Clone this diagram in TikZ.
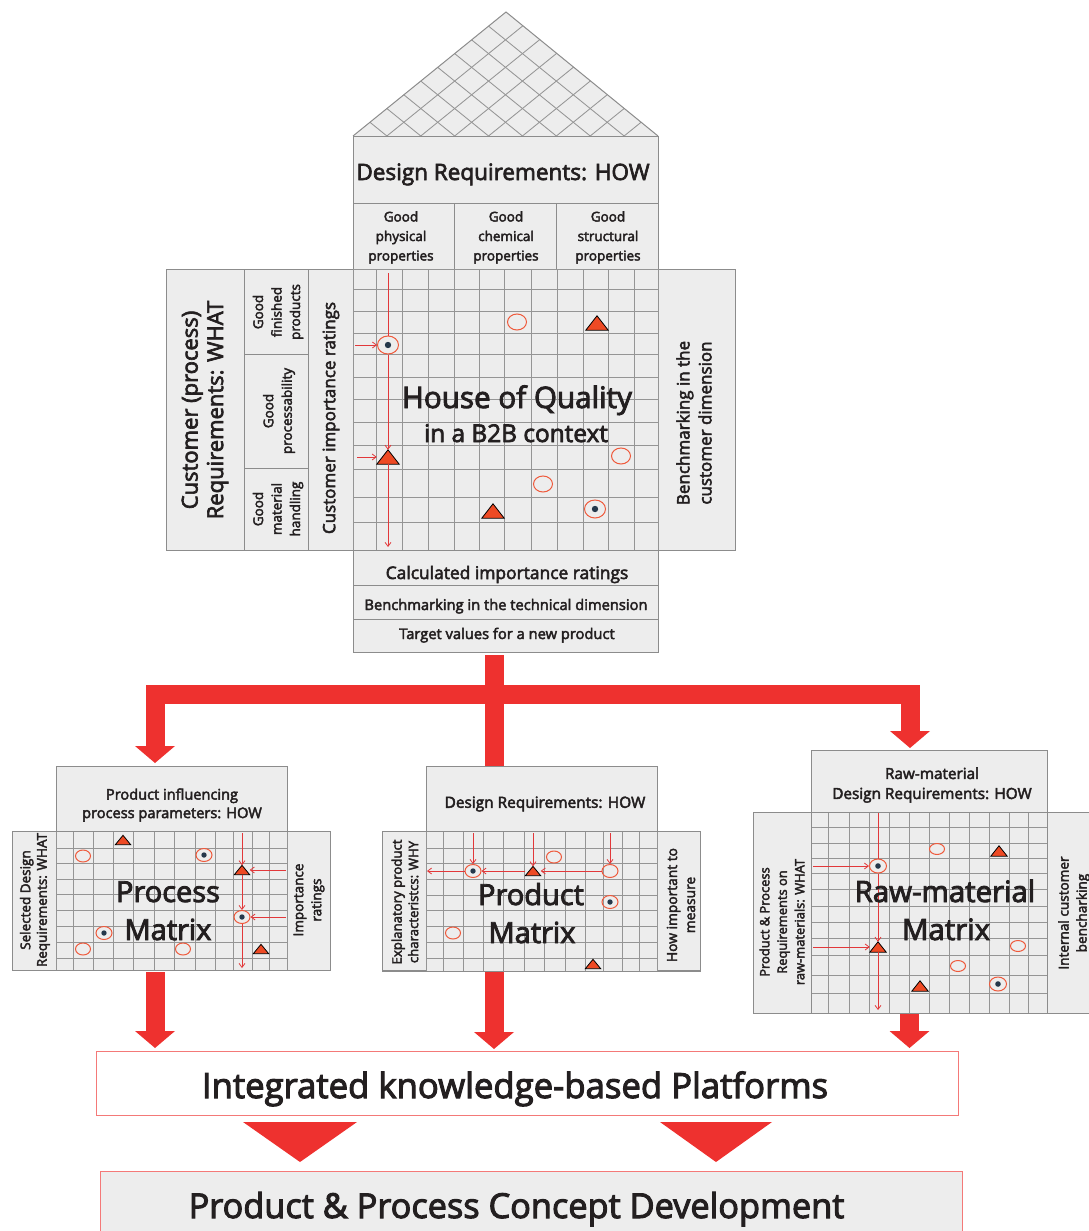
\documentclass[tikz,border=0pt]{standalone}
\usepackage{fontspec}
\setmainfont{Open Sans}[FakeBold=3]
\usetikzlibrary{arrows.meta,shapes.geometric}
\definecolor{boxgray}{HTML}{EDEDED}
\definecolor{linegray}{HTML}{8C8C8C}
\definecolor{gridgray}{HTML}{959595}
\definecolor{qred}{HTML}{EE312F}
\definecolor{symred}{HTML}{EE4A24}
\definecolor{circred}{HTML}{EF5A3C}
\definecolor{dotblue}{HTML}{25384B}
\definecolor{txt}{HTML}{231F20}
\definecolor{arrred}{HTML}{E2383A}
\newcommand\fz[2]{\fontsize{#1pt}{#2pt}\selectfont}
\newcommand\qtri[4]{\node[#4] (#1) at (#2,#3) {};
  \filldraw[fill=symred, draw=black, line width=0.8pt, line join=miter] (#1.south west) -- (#1.south east) -- (#1.north) -- cycle;}
\tikzset{
  panel/.style={fill=boxgray, draw=linegray, line width=1pt},
  box/.style={panel, text=txt, align=center, inner sep=0pt},
  gridl/.style={draw=gridgray, line width=0.85pt},
  lbl/.style={text=txt, align=center, inner sep=0pt},
  bigbar/.style={draw=qred, line width=19pt},
  bigarrow/.style={draw=qred, line width=19pt, line join=miter, -{Triangle[width=40pt,length=17pt,line width=0pt]}},
  rline/.style={draw=arrred, line width=0.8pt},
  rarrow/.style={draw=arrred, line width=0.8pt, -{Straight Barb[length=4pt,width=6pt]}},
  dotpic/.style={path picture={\fill[dotblue] (path picture bounding box.center) circle (#1);}},
  hcirc/.style={ellipse, draw=circred, line width=1pt, inner sep=0pt, minimum width=19pt, minimum height=16pt},
  hdot/.style={hcirc, minimum width=21pt, minimum height=18pt, dotpic=3.2pt},
  htri/.style={inner sep=0pt, minimum width=22pt, minimum height=14pt},
  mcirc/.style={hcirc, minimum width=15pt, minimum height=12pt},
  mdot/.style={hcirc, minimum width=16pt, minimum height=13pt, dotpic=2.7pt},
  mtri/.style={inner sep=0pt, minimum width=15pt, minimum height=9pt},
  rcirc/.style={hcirc, minimum width=15pt, minimum height=11pt},
  rdot/.style={hcirc, minimum width=17pt, minimum height=14pt, dotpic=2.8pt},
  rtri/.style={inner sep=0pt, minimum width=16pt, minimum height=10pt},
}
\begin{document}
\begin{tikzpicture}[x=1pt,y=-1pt]
\useasboundingbox (0,0) rectangle (1089,1231);

% ---------------- roof
\begin{scope}
\clip (353,136) -- (506,12) -- (658,136) -- cycle;
\fill[boxgray] (353,136) -- (506,12) -- (658,136) -- cycle;
\foreach \i in {1,...,8} {
  \draw[gridl] ({353+\i*305/9},136) -- ++(153,-124);
  \draw[gridl] ({353+\i*305/9},136) -- ++(-153,-124);
}
\end{scope}
\draw[draw=linegray, line width=1pt] (353,136) -- (506,12) -- (658,136);

% ---------------- HOQ boxes
\node[box, minimum width=305pt, minimum height=67pt] (dreq) at (505.5,169.5) {};
\node[lbl, anchor=base, font=\fz{22.5}{27}] at (503,180) {Design Requirements: HOW};
\node[box, minimum width=101pt, minimum height=66pt] (sh1) at (403.5,236) {};
\node[box, minimum width=102pt, minimum height=66pt] (sh2) at (505,236) {};
\node[box, minimum width=102pt, minimum height=66pt] (sh3) at (607,236) {};
\node[lbl, font=\fz{13.5}{19.5}] at (401,237.5) {Good\\physical\\properties};
\node[lbl, font=\fz{13.5}{19.5}] at (506,237.5) {Good\\chemical\\properties};
\node[lbl, font=\fz{13.5}{19.5}] at (608,237.5) {Good\\structural\\properties};

\node[box, minimum width=78pt, minimum height=281pt] (cw) at (205,409.5) {};
\node[box, minimum width=64pt, minimum height=85pt] (gfp) at (276,311.5) {};
\node[box, minimum width=64pt, minimum height=114pt] (gpr) at (276,411) {};
\node[box, minimum width=64pt, minimum height=82pt] (gmh) at (276,509) {};
\node[box, minimum width=45pt, minimum height=281pt] (cir) at (330.5,409.5) {};
\node[box, minimum width=77pt, minimum height=281pt] (bcd) at (696.5,409.5) {};

\node[lbl, rotate=90, font=\fz{22}{25.5}] at (205,410) {Customer (process)\\Requirements: WHAT};
\node[lbl, rotate=90, font=\fz{13.5}{18.5}] at (278,312) {Good\\finished\\products};
\node[lbl, rotate=90, font=\fz{13.5}{18.5}] at (279,411) {Good\\processability};
\node[lbl, rotate=90, font=\fz{13.5}{18.5}] at (278,509) {Good\\material\\handling};
\node[lbl, rotate=90, font=\fz{17}{20}] at (331,418) {Customer importance ratings};
\node[lbl, rotate=90, font=\fz{17}{22}] at (694,423) {Benchmarking in the\\customer dimension};

% HOQ grid
\fill[boxgray] (353,269) rectangle (658,550);
\foreach \x in {353,376,402,428,454,479,504,531,557,583,608,634,658} {\draw[gridl] (\x,269) -- (\x,550);}
\foreach \y in {269,289,311,333,354,377,399,422,445,469,497,522,550} {\draw[gridl] (353,\y) -- (658,\y);}

\node[box, minimum width=305pt, minimum height=35pt] (cir2) at (505.5,568) {};
\node[box, minimum width=305pt, minimum height=34pt] (btd) at (505.5,602) {};
\node[box, minimum width=305pt, minimum height=33pt] (tv) at (505.5,635.5) {};
\node[lbl, anchor=base, font=\fz{17.4}{20}] at (507,579) {Calculated importance ratings};
\node[lbl, anchor=base, font=\fz{14.7}{18}] at (506,610) {Benchmarking in the technical dimension};
\node[lbl, anchor=base, font=\fz{14.7}{18}] at (507,639) {Target values for a new product};

% HOQ symbols
\node[hdot] (hd1) at (388,345) {};
\qtri{ht1}{388}{457}{htri}
\node[hcirc] (hc1) at (517,322) {};
\qtri{ht2}{597}{323}{htri}
\node[hcirc] (hc2) at (621,456) {};
\node[hcirc] (hc3) at (543,484) {};
\qtri{ht3}{493}{511}{htri}
\node[hdot] (hd2) at (595,509) {};
\coordinate (hqtop) at (388,273);
\coordinate (hqbot) at (388,547);
\coordinate (hql1) at (355,345);
\coordinate (hql2) at (357,457);
\draw[rline] (hqtop) -- (hd1.north);
\draw[rarrow] (hd1.south) -- (ht1.north);
\draw[rarrow] (ht1.south) -- (hqbot);
\draw[rarrow] (hql1) -- (hd1.west);
\draw[rarrow] (hql2) -- (ht1.west);

\node[lbl, anchor=base, font=\fz{29.6}{34}] at (517,408) {House of Quality};
\node[lbl, anchor=base, font=\fz{24.4}{28}] at (516,442) {in a B2B context};

% ---------------- big connectors
\coordinate (tr0) at (494,655);
\coordinate (trj) at (494,694);
\coordinate (tl) at (155,763);
\coordinate (trr) at (910,748);
\coordinate (tm) at (494,767);
\draw[bigbar] (tr0) -- (tm);
\draw[bigarrow] (trj) -| (tl);
\draw[bigarrow] (trj) -| (trr);

% ---------------- Process matrix
\node[box, minimum width=231pt, minimum height=65pt] (procH) at (171.5,798.5) {};
\node[lbl, font=\fz{14.6}{18.5}] at (172,805) {Product influencing\\process parameters: HOW};
\node[box, minimum width=44pt, minimum height=139pt] (procL) at (34,900.5) {};
\node[box, minimum width=43pt, minimum height=139pt] (procR) at (308.5,900.5) {};
\fill[boxgray] (56,831) rectangle (287,970);
\foreach \x in {56,73,93,113,133,154,174,195,215,233,252,269,287} {\draw[gridl] (\x,831) -- (\x,970);}
\foreach \y in {831,848,863,879,894,910,926,942,958,970} {\draw[gridl] (56,\y) -- (287,\y);}
\draw[draw=linegray, line width=1pt] (12,831) rectangle (330,970);
\node[lbl, rotate=90, font=\fz{13.5}{16.5}] at (35,900) {Selected Design\\Requirements: WHAT};
\node[lbl, rotate=90, font=\fz{13.5}{18}] at (309,900) {Importance\\ratings};

\qtri{pt1}{123}{840}{mtri}
\node[mcirc] (pc1) at (83,856) {};
\node[mdot] (pd1) at (204,855) {};
\qtri{pt2}{242}{870}{mtri}
\node[mdot] (pd2) at (242,917) {};
\node[mdot] (pd3) at (104,933) {};
\node[mcirc] (pc2) at (83,949) {};
\node[mcirc] (pc3) at (183,949) {};
\qtri{pt3}{261}{949}{mtri}
\coordinate (ptop) at (242,833);
\coordinate (pbot) at (242,968);
\coordinate (pr1) at (286,870);
\coordinate (pr2) at (286,917);
\draw[rarrow] (ptop) -- (pt2.north);
\draw[rarrow] (pt2.south) -- (pd2.north);
\draw[rarrow] (pd2.south) -- (pbot);
\draw[rarrow] (pr1) -- (pt2.east);
\draw[rarrow] (pr2) -- (pd2.east);
\node[lbl, anchor=base, font=\fz{29}{34}] at (168,902) {Process};
\node[lbl, anchor=base, font=\fz{29}{34}] at (168,940) {Matrix};

% ---------------- Product matrix
\node[box, minimum width=231pt, minimum height=65pt] (prodH) at (541.5,798.5) {};
\node[lbl, font=\fz{15.4}{18.5}] at (545,804) {Design Requirements: HOW};
\node[box, minimum width=44pt, minimum height=139pt] (prodL) at (404,901) {};
\node[box, minimum width=43pt, minimum height=139pt] (prodR) at (678.5,901) {};
\fill[boxgray] (426,831) rectangle (657,971);
\foreach \x in {426,443,463,483,503,524,544,565,585,603,622,639,657} {\draw[gridl] (\x,831) -- (\x,971);}
\foreach \y in {831,848,863,879,895,910,926,942,958,971} {\draw[gridl] (426,\y) -- (657,\y);}
\draw[draw=linegray, line width=1pt] (382,831) rectangle (700,971);
\node[lbl, rotate=90, font=\fz{13.2}{16.5}] at (405,902) {Explanatory product\\characteristcs: WHY};
\node[lbl, rotate=90, font=\fz{13.8}{18}] at (681,905) {How important to\\measure};

\node[mdot] (qd1) at (473,871) {};
\qtri{qt1}{533}{871}{mtri}
\node[mcirc, minimum width=16pt, minimum height=13pt] (qc1) at (610,871) {};
\node[mcirc] (qc2) at (554,857) {};
\node[mdot] (qd2) at (610,902) {};
\node[mcirc] (qc3) at (453,933) {};
\qtri{qt2}{593}{964}{mtri}
\coordinate (qtop1) at (473,833);
\coordinate (qtop2) at (533,833);
\coordinate (qtop3) at (610,833);
\coordinate (qleft) at (427,871);
\draw[rarrow] (qtop1) -- (qd1.north);
\draw[rarrow] (qtop2) -- (qt1.north);
\draw[rarrow] (qtop3) -- (qc1.north);
\draw[rarrow] (qc1.west) -- (qt1.east);
\draw[rarrow] (qt1.west) -- (qd1.east);
\draw[rarrow] (qd1.west) -- (qleft);
\node[lbl, anchor=base, font=\fz{29}{34}] at (531,905) {Product};
\node[lbl, anchor=base, font=\fz{29}{34}] at (532,943) {Matrix};

% ---------------- Raw-material matrix
\node[box, minimum width=236pt, minimum height=62pt] (rawH) at (929,781) {};
\node[lbl, font=\fz{15.3}{20}] at (932,785) {Raw-material\\Design Requirements: HOW};
\node[box, minimum width=58pt, minimum height=201pt] (rawL) at (782,912.5) {};
\node[box, minimum width=53pt, minimum height=201pt] (rawR) at (1073.5,912.5) {};
\fill[boxgray] (811,812) rectangle (1047,1013);
\foreach \x in {811,828,849,869,889,909,929,949,969,989,1009,1028,1047} {\draw[gridl] (\x,812) -- (\x,1013);}
\foreach \y in {812,827,843,858,873,889,906,922,938,955,975,993,1013} {\draw[gridl] (811,\y) -- (1047,\y);}
\draw[draw=linegray, line width=1pt] (753,812) rectangle (1100,1013);
\draw[draw=linegray, line width=1pt] (811,812) -- (811,1013) (1047,812) -- (1047,1013);
\node[lbl, rotate=90, font=\fz{12.9}{17.5}] at (782,922) {Product \& Process\\Requirements on\\raw-materials: WHAT};
\node[lbl, rotate=90, font=\fz{13.6}{18}] at (1074,913) {Internal customer\\bencharking};

\node[rcirc] (rc1) at (937,849) {};
\qtri{rt1}{999}{851}{rtri}
\node[rdot] (rd1) at (878,866) {};
\qtri{rt2}{878}{947}{rtri}
\node[rcirc] (rc2) at (1018,946) {};
\node[rcirc] (rc3) at (958,966) {};
\qtri{rt3}{920}{986}{rtri}
\node[rdot] (rd2) at (998,984) {};
\coordinate (rtop) at (878,813);
\coordinate (rbot) at (878,1010);
\coordinate (rl1) at (813,866);
\coordinate (rl2) at (813,947);
\draw[rline] (rtop) -- (rd1.north);
\draw[rarrow] (rd1.south) -- (rt2.north);
\draw[rarrow] (rt2.south) -- (rbot);
\draw[rarrow] (rl1) -- (rd1.west);
\draw[rarrow] (rl2) -- (rt2.west);
\node[lbl, anchor=base, font=\fz{29.4}{34}] at (945,902) {Raw-material};
\node[lbl, anchor=base, font=\fz{29.4}{34}] at (946,940) {Matrix};

% ---------------- lower connectors and boxes
\node[draw=qred!65, line width=1pt, fill=white, minimum width=862pt, minimum height=64pt, inner sep=0pt] (plat) at (527,1083.5) {};
\node[lbl, anchor=base, font=\fz{34.7}{40}] at (515,1098) {Integrated knowledge-based Platforms};
\node[draw=qred!65, line width=1pt, fill=boxgray, minimum width=862pt, minimum height=78pt, inner sep=0pt] (conc) at (531,1210) {};
\node[lbl, anchor=base, font=\fz{34.3}{40}] at (516.5,1218) {Product \& Process Concept Development};

\coordinate (pa0) at (155,972);  \coordinate (pa1) at (155,1048);
\coordinate (qa0) at (494,972);  \coordinate (qa1) at (494,1049);
\coordinate (ra0) at (909.5,1014); \coordinate (ra1) at (909.5,1048);
\draw[bigarrow] (pa0) -- (pa1);
\draw[bigarrow] (qa0) -- (qa1);
\draw[bigarrow] (ra0) -- (ra1);
\fill[qred] (243,1122) -- (357,1122) -- (300,1162) -- cycle;
\fill[qred] (660,1122) -- (772,1122) -- (716,1162) -- cycle;
\end{tikzpicture}
\end{document}
